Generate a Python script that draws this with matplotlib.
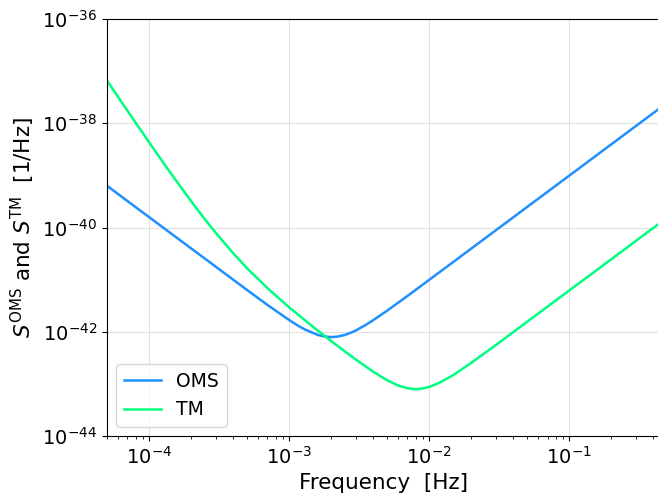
import numpy as np
import matplotlib
matplotlib.use("Agg")
from matplotlib import pyplot as plt
from matplotlib.ticker import NullLocator

# Noise power spectral densities, fractional-frequency units [1/Hz]
oms_freq = [5e-5, 6e-5, 7e-5, 1e-4, 1.5e-4, 2e-4, 3e-4, 5e-4, 7e-4, 1e-3,
            1.15e-3, 1.3e-3, 1.6e-3, 1.8e-3, 2e-3, 2.2e-3, 2.5e-3, 2.8e-3,
            3e-3, 3.5e-3, 4e-3, 5e-3, 6e-3, 7e-3, 1e-2, 2e-2, 5e-2,
            0.1, 0.2, 0.45]
oms_psd = [6.32e-40, 4.39e-40, 3.22e-40, 1.58e-40, 7.02e-41, 3.95e-41,
           1.76e-41, 6.34e-42, 3.27e-42, 1.68e-42, 1.32e-42, 1.10e-42,
           8.69e-43, 8.07e-43, 7.90e-43, 8.04e-43, 8.69e-43, 9.75e-43,
           1.06e-42, 1.34e-42, 1.68e-42, 2.53e-42, 3.60e-42, 4.87e-42,
           9.89e-42, 3.95e-41, 2.47e-40, 9.87e-40, 3.95e-39, 2.00e-38]

tm_freq = [5e-5, 6e-5, 7e-5, 1e-4, 1.2e-4, 1.5e-4, 2e-4, 2.5e-4, 3e-4, 4e-4,
           5e-4, 7e-4, 1e-3, 1.5e-3, 2e-3, 2.5e-3, 3e-3, 4e-3, 5e-3, 6e-3,
           7e-3, 8e-3, 9e-3, 1e-2, 1.2e-2, 1.5e-2, 2e-2, 3e-2, 5e-2,
           0.1, 0.2, 0.45]
tm_psd = [6.58e-38, 3.20e-38, 1.74e-38, 4.31e-39, 2.13e-39, 9.13e-40,
          3.17e-40, 1.44e-40, 7.82e-41, 3.17e-41, 1.66e-41, 6.86e-42,
          2.94e-42, 1.21e-42, 6.61e-43, 4.20e-43, 2.92e-43, 1.70e-43,
          1.175e-43, 9.30e-44, 8.23e-44, 7.93e-44, 8.15e-44, 8.73e-44,
          1.07e-43, 1.50e-43, 2.54e-43, 5.59e-43, 1.55e-42, 6.18e-42,
          2.47e-41, 1.25e-40]

fig = plt.figure(figsize=(6.58, 4.98), dpi=100)
ax = fig.add_axes([0.1626, 0.1245, 0.8404, 0.8373])

ax.loglog(oms_freq, oms_psd, color="dodgerblue", lw=1.8, label="OMS")
ax.loglog(tm_freq, tm_psd, color="springgreen", lw=1.8, label="TM")

ax.set_xlim(5e-5, 0.445)
ax.set_ylim(1e-44, 1e-36)
ax.set_yticks([1e-44, 1e-42, 1e-40, 1e-38, 1e-36])
ax.yaxis.set_minor_locator(NullLocator())

ax.grid(True, which="major", color="#d9d9d9", lw=0.8, alpha=0.8)
ax.tick_params(axis="both", which="major", labelsize=14)

ax.set_xlabel("Frequency  [Hz]", fontsize=15.5)
ax.set_ylabel(r"$S^{\rm OMS}$ and $S^{\rm TM}$  [1/Hz]", fontsize=15.5)
ax.legend(loc="lower left", fontsize=13.5)

fig.savefig("out.png", dpi=100)
